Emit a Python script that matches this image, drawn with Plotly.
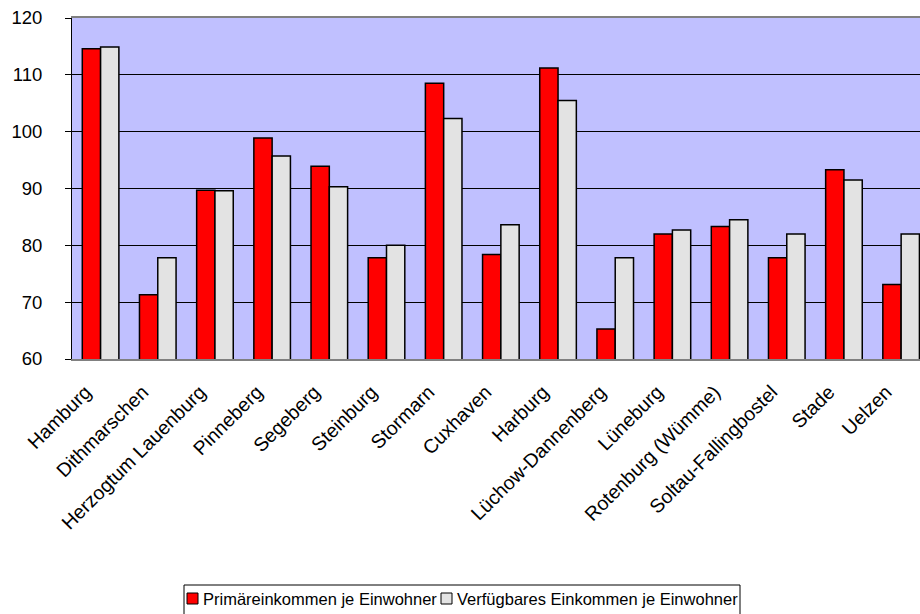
import plotly.graph_objects as go

categories = ["Hamburg", "Dithmarschen", "Herzogtum Lauenburg", "Pinneberg", "Segeberg",
              "Steinburg", "Stormarn", "Cuxhaven", "Harburg", "Lüchow-Dannenberg",
              "Lüneburg", "Rotenburg (Wümme)", "Soltau-Fallingbostel", "Stade", "Uelzen"]
primaer = [114.6, 71.3, 89.7, 98.9, 93.9, 77.8, 108.5, 78.4, 111.2, 65.3, 82.0, 83.3, 77.8, 93.3, 73.1]
verfuegbar = [114.9, 77.8, 89.6, 95.7, 90.3, 80.0, 102.3, 83.6, 105.5, 77.8, 82.7, 84.5, 82.0, 91.5, 82.0]
series_names = ["Primäreinkommen je Einwohner", "Verfügbares Einkommen je Einwohner"]
series_colors = ["#FF0000", "#E3E3E3"]
y_ticks = [60, 70, 80, 90, 100, 110, 120]

FONT = "Liberation Sans, Arial, sans-serif"

# figure / plot-area geometry (pixels)
FIG_W, FIG_H = 920, 614
M_L, M_T, M_R, M_B = 72, 18, 0, 255
PW = FIG_W - M_L - M_R
PH = FIG_H - M_T - M_B


def xp(px):
    return (px - M_L) / PW


def yp(py):
    return (M_T + PH - py) / PH


fig = go.Figure()
for name, vals, col in zip(series_names, [primaer, verfuegbar], series_colors):
    fig.add_trace(go.Bar(x=categories, y=vals, name=name,
                         marker=dict(color=col, line=dict(color="black", width=1.5))))

# custom legend (box with small squares, as in the original)
LEG_FONT = 16.5
legend_items = [(187, 202), (441, 456)]
shapes = [dict(type="rect", xref="paper", yref="paper",
               x0=xp(184), x1=xp(740), y0=yp(585), y1=yp(640),
               line=dict(color="black", width=1), fillcolor="white", layer="above")]
annotations = []
for (sq_x, tx), name, col in zip(legend_items, series_names, series_colors):
    shapes.append(dict(type="rect", xref="paper", yref="paper",
                       x0=xp(sq_x), x1=xp(sq_x + 11), y0=yp(593), y1=yp(604),
                       line=dict(color="black", width=1), fillcolor=col, layer="above"))
    annotations.append(dict(text=name, xref="paper", yref="paper", x=xp(tx), y=yp(599),
                            xanchor="left", yanchor="middle", showarrow=False,
                            font=dict(family=FONT, size=LEG_FONT, color="black"),
                            borderpad=0))

fig.update_layout(
    width=FIG_W, height=FIG_H,
    margin=dict(l=M_L, r=M_R, t=M_T, b=M_B),
    paper_bgcolor="white",
    plot_bgcolor="#C0C0FF",
    barmode="group",
    bargap=0.36,
    bargroupgap=0,
    font=dict(family=FONT, color="black", size=16),
    showlegend=False,
    shapes=shapes,
    annotations=annotations,
)
fig.update_xaxes(
    type="category", range=[-0.5, 14.33],
    tickangle=-45, tickfont=dict(family=FONT, size=19.5, color="black"),
    showline=True, linecolor="#808080", linewidth=2, mirror=True,
    ticks="", showgrid=False, ticklabelstandoff=12, ticklabelshift=-15,
)
fig.update_yaxes(
    range=[60, 120], tickvals=y_ticks,
    tickfont=dict(family=FONT, size=18.5, color="black"),
    showline=True, linecolor="black", linewidth=1,
    ticks="outside", ticklen=6, tickcolor="black",
    showgrid=True, gridcolor="black", gridwidth=1,
    zeroline=False, ticklabelstandoff=19,
)

fig.write_html("out.html")
